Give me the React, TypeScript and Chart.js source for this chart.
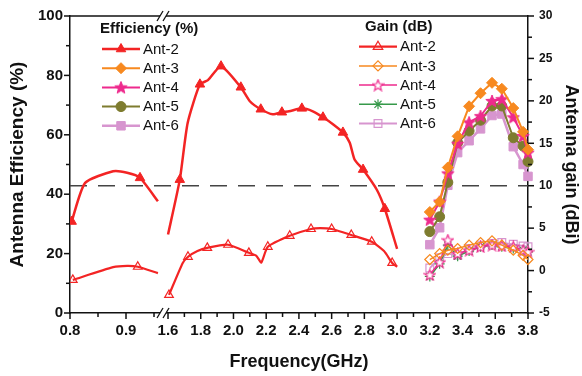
import React, { useEffect, useRef } from 'react';
import { Chart, registerables } from 'chart.js';
import { drawPoint } from 'chart.js/helpers';

Chart.register(...registerables);

// ---------------- Data (frequency in GHz) ----------------
// Efficiency (%) Ant-2, low band and high band
const effAnt2LowFreq = [0.803, 0.827, 0.877, 0.902, 0.925, 0.957];
const effAnt2LowVal = [30.8, 43.8, 47.7, 47.2, 45.5, 37.6];
const effAnt2LowMarks = [0, 4];
const effAnt2HighFreq = [1.6, 1.672, 1.72, 1.795, 1.844, 1.924, 2.045, 2.1, 2.167, 2.24, 2.296, 2.34, 2.418, 2.485, 2.547, 2.61, 2.669, 2.71, 2.74, 2.792, 2.876, 2.925, 3.0];
const effAnt2HighVal = [26.4, 44.9, 64, 77, 78.4, 83.1, 76, 71.3, 68.6, 66.9, 67.6, 67.9, 68.9, 67.9, 65.9, 63.5, 60.8, 57.4, 51.7, 48.3, 41.5, 35.1, 21.6];
const effAnt2HighMarks = [1, 3, 5, 6, 8, 10, 12, 14, 16, 19, 21];

// Gain (dBi) Ant-2
const gainAnt2LowFreq = [0.805, 0.877, 0.902, 0.921, 0.957];
const gainAnt2LowVal = [-1.1, 0.4, 0.56, 0.45, -0.3];
const gainAnt2LowMarks = [0, 3];
const gainAnt2HighFreq = [1.606, 1.69, 1.722, 1.78, 1.84, 1.967, 2.094, 2.14, 2.17, 2.21, 2.344, 2.474, 2.53, 2.6, 2.72, 2.845, 2.92, 2.97, 3.0];
const gainAnt2HighVal = [-2.87, 0.9, 1.62, 2.3, 2.68, 3.04, 2.09, 1.74, 0.95, 2.8, 4.1, 4.9, 5.0, 4.9, 4.2, 3.4, 2.3, 0.9, 0.44];
const gainAnt2HighMarks = [0, 2, 4, 5, 6, 9, 10, 11, 13, 14, 15, 17];

// 3.2-3.8 GHz band
const band3Freq = [3.2, 3.26, 3.31, 3.37, 3.44, 3.51, 3.58, 3.64, 3.71, 3.77, 3.8];
const effAnt3 = [34, 37.5, 49, 59.5, 69.6, 74, 77.5, 75.5, 69, 61, 55];
const effAnt4 = [31.4, 37.5, 47, 57, 64.2, 66.3, 71.4, 72, 65.9, 59.6, 54];
const effAnt5 = [27.4, 32.4, 44, 57.3, 61.3, 64.9, 69.7, 69.7, 59, 56.2, 51];
const effAnt6 = [23, 28.7, 43, 54, 58, 62, 66.5, 67, 56, 50, 46];
const gainAnt3 = [1.3, 2.0, 2.4, 2.6, 3.0, 3.3, 3.5, 3.0, 2.4, 1.8, 1.3];
const gainAnt4 = [-0.5, 1.0, 3.6, 2.0, 2.4, 2.8, 3.0, 2.9, 2.8, 2.4, 2.2];
const gainAnt5 = [-0.7, 0.8, 3.0, 1.7, 2.3, 2.8, 3.0, 2.8, 2.6, 2.4, 2.2];
const gainAnt6 = [0.3, 1.5, 2.0, 1.8, 2.6, 3.0, 3.2, 3.3, 3.1, 2.9, 2.8];

const gainRefLine = 10;
const freqRange = [0.8, 3.8];

const xMajorTicks = [0.8, 0.9, 1.6, 1.8, 2.0, 2.2, 2.4, 2.6, 2.8, 3.0, 3.2, 3.4, 3.6, 3.8];
const xMinorTicks = [0.85, 0.95, 1.7, 1.9, 2.1, 2.3, 2.5, 2.7, 2.9, 3.1, 3.3, 3.5, 3.7];

const effLegendTitle = 'Efficiency (%)';
const gainLegendTitle = 'Gain (dB)';

// ---------------- Broken axis mapping ----------------
const LOW_START = 0.8;
const LOW_SCALE = 560;
const HIGH_START = 1.6;
const HIGH_OFFSET = 98;
const HIGH_SCALE = 163.6;
const BREAK_U = 93;
function toAxis(f: number): number {
  return f < 1.3 ? (f - LOW_START) * LOW_SCALE : HIGH_OFFSET + (f - HIGH_START) * HIGH_SCALE;
}

const allXTicks = [...xMajorTicks, ...xMinorTicks].sort((a, b) => a - b);

// ---------------- Style ----------------
const RED = '#f32424';
const ORANGE = '#f7891f';
const PINK = '#ee2a8d';
const OLIVE = '#7e7c2f';
const GREEN = '#36994a';
const LILAC = '#d795cf';
const FONT = '"Liberation Sans", Arial, sans-serif';

function pts(freqs: number[], vals: number[]) {
  return freqs.map((f, i) => ({ x: toAxis(f), y: vals[i] }));
}
function radii(n: number, marks: number[], r: number) {
  return Array.from({ length: n }, (_, i) => (marks.includes(i) ? r : 0));
}
function joined(lowF: number[], lowV: number[], lowM: number[], hiF: number[], hiV: number[], hiM: number[], r: number) {
  const a = pts(lowF, lowV);
  const b = pts(hiF, hiV);
  const data = [...a, { x: (a[a.length - 1].x + b[0].x) / 2, y: null as any }, ...b];
  const rad = [...radii(a.length, lowM, r), 0, ...radii(b.length, hiM, r)];
  return { data, rad };
}

function makeStar(fill: string, stroke: string, size: number, outer: number, inner: number, lw: number) {
  const c = document.createElement('canvas');
  c.width = size;
  c.height = size;
  const g = c.getContext('2d')!;
  const cx = size / 2;
  const cy = size / 2 + 0.5;
  g.beginPath();
  for (let i = 0; i < 10; i++) {
    const r = i % 2 === 0 ? outer : inner;
    const a = -Math.PI / 2 + (i * Math.PI) / 5;
    const x = cx + r * Math.cos(a);
    const y = cy + r * Math.sin(a);
    if (i === 0) g.moveTo(x, y);
    else g.lineTo(x, y);
  }
  g.closePath();
  g.fillStyle = fill;
  g.fill();
  g.lineWidth = lw;
  g.strokeStyle = stroke;
  g.stroke();
  return c;
}

const decorPlugin = {
  id: 'decor',
  afterDraw(chart: any) {
    const { ctx, chartArea: ca, scales } = chart;
    ctx.save();
    ctx.strokeStyle = '#111';
    ctx.lineWidth = 1.5;
    const line = (x1: number, y1: number, x2: number, y2: number) => {
      ctx.beginPath();
      ctx.moveTo(x1, y1);
      ctx.lineTo(x2, y2);
      ctx.stroke();
    };
    // tick marks
    scales.x.ticks.forEach((t: any) => {
      const px = scales.x.getPixelForValue(t.value);
      line(px, ca.bottom, px, ca.bottom + (t.label !== '' ? 6 : 4));
    });
    scales.y.ticks.forEach((t: any) => {
      const py = scales.y.getPixelForValue(t.value);
      line(ca.left - (t.label !== '' ? 6 : 4), py, ca.left, py);
    });
    scales.y2.ticks.forEach((t: any) => {
      const py = scales.y2.getPixelForValue(t.value);
      line(ca.right, py, ca.right + (t.label !== '' ? 6 : 4), py);
    });
    // top frame
    line(ca.left, ca.top, ca.right, ca.top);
    // axis break marks
    const bx = scales.x.getPixelForValue(BREAK_U);
    [ca.top, ca.bottom].forEach((yy: number) => {
      ctx.fillStyle = '#fff';
      ctx.fillRect(bx - 3, yy - 2, 6, 4);
      ctx.lineWidth = 1.3;
      line(bx - 6, yy + 5, bx, yy - 5);
      line(bx, yy + 5, bx + 6, yy - 5);
    });

    // legends
    const groups = [
      { key: 'eff', title: effLegendTitle, tx: 100, ty: 29, lx0: 102, lx1: 140, textX: 143, y0: 49 },
      { key: 'gain', title: gainLegendTitle, tx: 365, ty: 27, lx0: 359, lx1: 397, textX: 400, y0: 46.7 },
    ];
    groups.forEach((g) => {
      ctx.fillStyle = '#111';
      ctx.textBaseline = 'middle';
      ctx.textAlign = 'left';
      ctx.font = `bold 15px ${FONT}`;
      ctx.fillText(g.title, g.tx, g.ty);
      const ds = chart.data.datasets.filter((d: any) => d.legendGroup === g.key);
      ds.forEach((d: any, i: number) => {
        const y = g.y0 + i * 19.2;
        ctx.strokeStyle = d.borderColor;
        ctx.lineWidth = d.borderWidth;
        ctx.setLineDash([]);
        line(g.lx0, y, g.lx1, y);
        ctx.fillStyle = d.pointBackgroundColor;
        ctx.strokeStyle = d.pointBorderColor;
        ctx.lineWidth = d.pointBorderWidth;
        drawPoint(ctx, { pointStyle: d.pointStyle, radius: d.legendRadius, borderWidth: d.pointBorderWidth, rotation: 0 } as any, (g.lx0 + g.lx1) / 2, y);
        ctx.fillStyle = '#111';
        ctx.font = `15px ${FONT}`;
        ctx.fillText(d.label, g.textX, y + 0.5);
      });
    });
    ctx.restore();
  },
};

export default function App() {
  const ref = useRef<HTMLCanvasElement>(null);
  useEffect(() => {
    document.body.style.margin = '0';
    const starFilled = makeStar(PINK, PINK, 14, 6.5, 2.8, 1);
    const starHollow = makeStar('#fff', PINK, 13, 5.8, 2.5, 1.2);

    const e2 = joined(effAnt2LowFreq, effAnt2LowVal, effAnt2LowMarks, effAnt2HighFreq, effAnt2HighVal, effAnt2HighMarks, 5.5);
    const g2 = joined(gainAnt2LowFreq, gainAnt2LowVal, gainAnt2LowMarks, gainAnt2HighFreq, gainAnt2HighVal, gainAnt2HighMarks, 5);

    const band = (vals: number[], label: string, color: string, style: any, r: number, bg: string, group: string, axis: string, bw: number, pbw: number) => ({
      label,
      legendGroup: group,
      legendRadius: r,
      data: pts(band3Freq, vals),
      yAxisID: axis,
      borderColor: color,
      borderWidth: bw,
      pointStyle: style,
      pointRadius: r,
      pointBackgroundColor: bg,
      pointBorderColor: color,
      pointBorderWidth: pbw,
      tension: 0,
      clip: false as any,
    });

    const datasets: any[] = [
      {
        label: 'Ant-2', legendGroup: 'eff', legendRadius: 5.5,
        data: e2.data, yAxisID: 'y', borderColor: RED, borderWidth: 2.5,
        pointStyle: 'triangle', pointRadius: e2.rad, pointBackgroundColor: RED, pointBorderColor: RED, pointBorderWidth: 1,
        tension: 0.2, spanGaps: false,
      },
      band(effAnt3, 'Ant-3', ORANGE, 'rectRot', 5.5, ORANGE, 'eff', 'y', 2, 1),
      band(effAnt4, 'Ant-4', PINK, starFilled, 6, PINK, 'eff', 'y', 2, 1),
      band(effAnt5, 'Ant-5', OLIVE, 'circle', 5, OLIVE, 'eff', 'y', 2, 1),
      band(effAnt6, 'Ant-6', LILAC, 'rect', 6, LILAC, 'eff', 'y', 2.5, 1),
      {
        label: 'Ant-2', legendGroup: 'gain', legendRadius: 5.5,
        data: g2.data, yAxisID: 'y2', borderColor: RED, borderWidth: 2.2,
        pointStyle: 'triangle', pointRadius: g2.rad, pointBackgroundColor: 'rgba(255,255,255,0)', pointBorderColor: RED, pointBorderWidth: 1.2,
        tension: 0.2, spanGaps: false,
      },
      band(gainAnt3, 'Ant-3', ORANGE, 'rectRot', 5, 'rgba(255,255,255,0)', 'gain', 'y2', 1.5, 1.2),
      band(gainAnt4, 'Ant-4', PINK, starHollow, 5, 'rgba(255,255,255,0)', 'gain', 'y2', 1.5, 1.2),
      band(gainAnt5, 'Ant-5', GREEN, 'star', 5, GREEN, 'gain', 'y2', 1.5, 1.2),
      band(gainAnt6, 'Ant-6', LILAC, 'rect', 5.5, 'rgba(255,255,255,0)', 'gain', 'y2', 1.8, 1.2),
      {
        label: 'ref', legendGroup: 'none', order: 10,
        data: [{ x: toAxis(freqRange[0]), y: gainRefLine }, { x: toAxis(freqRange[1]), y: gainRefLine }],
        yAxisID: 'y2', borderColor: '#444', borderWidth: 1.6, borderDash: [17, 11], pointRadius: 0,
      },
    ];

    const chart = new Chart(ref.current!, {
      type: 'line',
      data: { datasets },
      plugins: [decorPlugin as any],
      options: {
        responsive: false,
        animation: false,
        devicePixelRatio: 1,
        events: [],
        layout: { padding: { top: 16, left: 0, right: 0, bottom: 0 } },
        plugins: { legend: { display: false }, tooltip: { enabled: false } },
        font: { family: FONT } as any,
        scales: {
          x: {
            type: 'linear',
            min: toAxis(freqRange[0]),
            max: toAxis(freqRange[1]),
            afterBuildTicks: (scale: any) => {
              scale.ticks = allXTicks.map((f) => ({ value: toAxis(f) }));
            },
            afterFit: (s: any) => { s.height = 63; },
            ticks: {
              autoSkip: false, maxRotation: 0, padding: 3, color: '#111',
              font: { family: FONT, size: 15, weight: 'bold' },
              callback: (_v: any, i: number) => {
                const f = allXTicks[i];
                return xMajorTicks.includes(f) ? f.toFixed(1) : '';
              },
            },
            grid: { display: false, drawTicks: true, tickLength: 6 },
            border: { display: true, color: '#111', width: 1.5 },
            title: { display: true, text: 'Frequency(GHz)', color: '#111', font: { family: FONT, size: 18, weight: 'bold' }, padding: { top: 0, bottom: 3 } },
          },
          y: {
            type: 'linear', position: 'left', min: 0, max: 100,
            afterFit: (s: any) => { s.width = 70; },
            ticks: {
              stepSize: 10, autoSkip: false, padding: 1, color: '#111',
              font: { family: FONT, size: 15, weight: 'bold' },
              callback: (v: any) => (Number(v) % 20 === 0 ? String(v) : ''),
            },
            grid: { display: false, drawTicks: true, tickLength: 6 },
            border: { display: true, color: '#111', width: 1.5 },
            title: { display: true, text: 'Antenna Efficiency (%)', color: '#111', font: { family: FONT, size: 19, weight: 'bold' }, padding: { top: 6, bottom: 0 } },
          },
          y2: {
            type: 'linear', position: 'right', min: -5, max: 30,
            afterFit: (s: any) => { s.width = 54; },
            ticks: {
              stepSize: 2.5, autoSkip: false, padding: 5, color: '#111',
              font: { family: FONT, size: 12, weight: 'bold' },
              callback: (v: any) => (Number(v) % 5 === 0 ? String(v) : ''),
            },
            grid: { display: false, drawTicks: true, tickLength: 6 },
            border: { display: true, color: '#111', width: 1.5 },
            title: { display: true, text: 'Antenna gain (dBi)', color: '#111', font: { family: FONT, size: 18, weight: 'bold' }, padding: { top: 0, bottom: 0 } },
          },
        },
      } as any,
    });
    return () => chart.destroy();
  }, []);
  return <canvas ref={ref} width={582} height={376} style={{ display: 'block' }} />;
}
